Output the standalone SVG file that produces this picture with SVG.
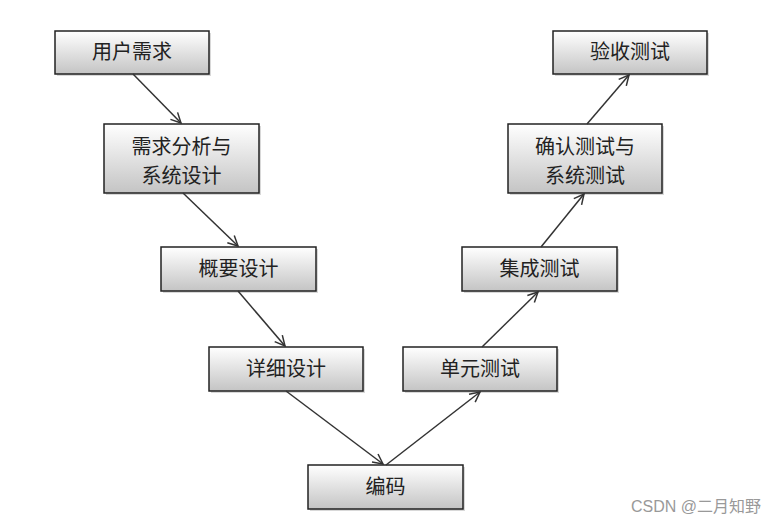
<svg xmlns="http://www.w3.org/2000/svg" width="783" height="525" viewBox="0 0 783 525">
<defs>
<linearGradient id="g" x1="0" y1="0" x2="0" y2="1">
<stop offset="0" stop-color="#ffffff"/>
<stop offset="1" stop-color="#c4c4c4"/>
</linearGradient>
<marker id="a" viewBox="0 0 12 12" refX="11" refY="6" markerWidth="12" markerHeight="12" markerUnits="userSpaceOnUse" orient="auto">
<path d="M1,1 L11,6 L1,11" fill="none" stroke="#333" stroke-width="1.5"/>
</marker>
</defs>
<style>
.box{fill:url(#g);stroke:#222;stroke-width:1.5}
.sh{fill:#d8d8d8}
.t{font-family:"Noto Sans CJK SC","Noto Sans",sans-serif;font-size:20px;fill:#222;text-anchor:middle}
.c{stroke:#333;stroke-width:1.5;fill:none;marker-end:url(#a)}
.w{font-family:"Liberation Sans","Noto Sans CJK SC",sans-serif;font-size:16px;fill:#999}
</style>
<rect width="783" height="525" fill="#fff"/>
<g id="n1"><rect class="sh" x="57" y="33" width="154" height="43"/><rect class="box" x="55" y="31" width="154" height="43"/><text class="t" x="132" y="59">用户需求</text></g>
<g id="n2"><rect class="sh" x="106" y="126" width="155" height="69"/><rect class="box" x="104" y="124" width="155" height="69"/><text class="t" x="181.5" y="154">需求分析与</text><text class="t" x="181.5" y="183">系统设计</text></g>
<g id="n3"><rect class="sh" x="163" y="249" width="155" height="44"/><rect class="box" x="161" y="247" width="155" height="44"/><text class="t" x="238.5" y="276">概要设计</text></g>
<g id="n4"><rect class="sh" x="211" y="349" width="154" height="44"/><rect class="box" x="209" y="347" width="154" height="44"/><text class="t" x="286" y="376">详细设计</text></g>
<g id="n5"><rect class="sh" x="310" y="467" width="155" height="44"/><rect class="box" x="308" y="465" width="155" height="44"/><text class="t" x="385.5" y="494">编码</text></g>
<g id="n6"><rect class="sh" x="405" y="349" width="154" height="44"/><rect class="box" x="403" y="347" width="154" height="44"/><text class="t" x="480" y="376">单元测试</text></g>
<g id="n7"><rect class="sh" x="464" y="249" width="155" height="44"/><rect class="box" x="462" y="247" width="155" height="44"/><text class="t" x="539.5" y="276">集成测试</text></g>
<g id="n8"><rect class="sh" x="510" y="126" width="154" height="69"/><rect class="box" x="508" y="124" width="154" height="69"/><text class="t" x="585" y="154">确认测试与</text><text class="t" x="585" y="183">系统测试</text></g>
<g id="n9"><rect class="sh" x="555" y="33" width="154" height="43"/><rect class="box" x="553" y="31" width="154" height="43"/><text class="t" x="630" y="59">验收测试</text></g>
<g id="connectors">
<line class="c" x1="133" y1="74" x2="181" y2="123"/>
<line class="c" x1="183" y1="193" x2="238" y2="246"/>
<line class="c" x1="238" y1="291" x2="285" y2="346"/>
<line class="c" x1="286" y1="391" x2="383" y2="464"/>
<line class="c" x1="386" y1="465" x2="480" y2="392"/>
<line class="c" x1="482" y1="347" x2="538" y2="292"/>
<line class="c" x1="541" y1="247" x2="584" y2="194"/>
<line class="c" x1="587" y1="124" x2="629" y2="75"/>
</g>
<text class="w" x="631" y="512">CSDN @二月知野</text>
</svg>
